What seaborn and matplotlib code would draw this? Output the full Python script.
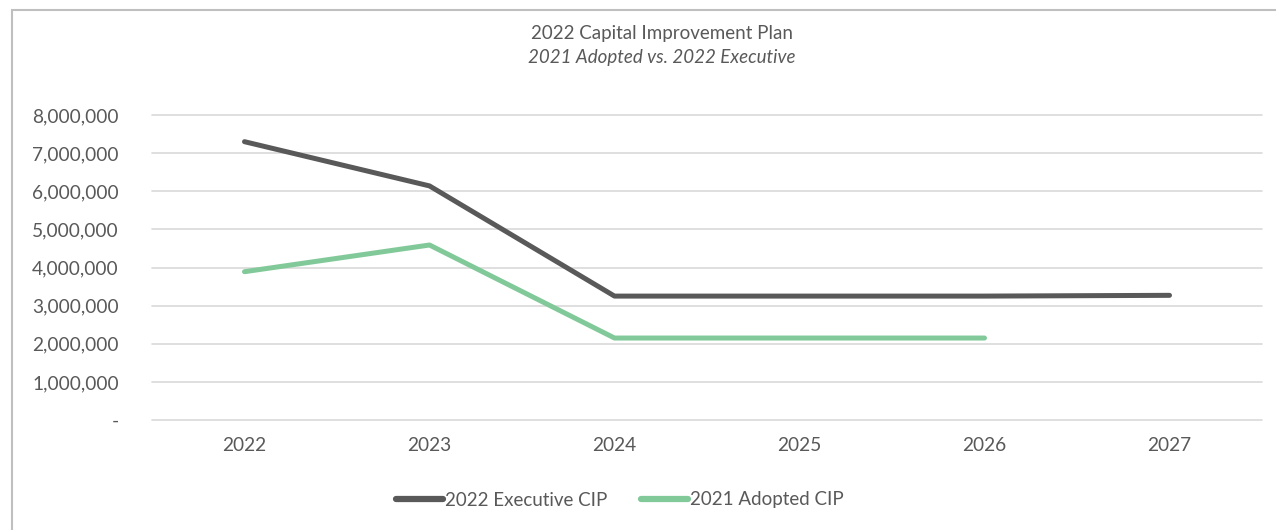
import numpy as np
import pandas as pd
import matplotlib
matplotlib.use("Agg")
import matplotlib.pyplot as plt
import seaborn as sns
from matplotlib.patches import Rectangle
from matplotlib.ticker import FuncFormatter

# verdier lest av bildet
years = ["2022", "2023", "2024", "2025", "2026", "2027"]
executive = [7300000, 6140000, 3250000, 3250000, 3250000, 3270000]
adopted = [3890000, 4590000, 2150000, 2150000, 2150000, np.nan]
series_names = ["2022 Executive CIP", "2021 Adopted CIP"]

df = pd.DataFrame({
    "År": years * 2,
    "Beløp": executive + adopted,
    "Serie": [series_names[0]] * len(years) + [series_names[1]] * len(years),
})
df["x"] = df.groupby("Serie").cumcount()

sns.set_style("white")
plt.rcParams["font.family"] = ["Lato", "DejaVu Sans"]
tekst = "#595959"

fig = plt.figure(figsize=(12.76, 5.30), dpi=100)
ax = fig.add_axes([152 / 1276, 1 - 420 / 530, 1110 / 1276, 305 / 530])

sns.lineplot(data=df.dropna(), x="x", y="Beløp", hue="Serie",
             palette={series_names[0]: "#595959", series_names[1]: "#82C99A"},
             linewidth=3.6, ax=ax, legend=True)
for line in ax.get_lines():
    line.set_solid_capstyle("round")

ax.set_xlim(-0.5, len(years) - 0.5)
ax.set_ylim(0, 8000000)
ax.set_yticks(np.arange(0, 8000001, 1000000))
ax.yaxis.set_major_formatter(FuncFormatter(lambda v, p: "-" if v == 0 else f"{v:,.0f}"))
ax.set_xticks(range(len(years)))
ax.set_xticklabels(years)
ax.grid(True, axis="y", color="#D9D9D9", linewidth=1.2)
for gl in ax.yaxis.get_gridlines():
    gl.set_clip_on(False)
ax.set_axisbelow(True)
for s in ax.spines.values():
    s.set_visible(False)
ax.tick_params(axis="both", length=0, labelsize=13.8, colors=tekst)
ax.tick_params(axis="x", pad=12)
ax.tick_params(axis="y", pad=24)
ax.set_xlabel("")
ax.set_ylabel("")

fig.text(662 / 1276, 1 - 33 / 530, "2022 Capital Improvement Plan", ha="center", va="center",
         fontsize=13.5, color=tekst)
fig.text(662 / 1276, 1 - 57 / 530, "2021 Adopted vs. 2022 Executive", ha="center", va="center",
         fontsize=13.5, color=tekst, style="italic")

handles, labels = ax.get_legend_handles_labels()
for h in handles:
    h.set_linewidth(4.5)
ax.legend(handles, labels, loc="center", bbox_to_anchor=(620 / 1276, 1 - 500 / 530),
          bbox_transform=fig.transFigure, ncol=2, frameon=False, fontsize=13.5,
          labelcolor=tekst, handlelength=2.5, handletextpad=0.1, columnspacing=1.8)

fig.patches.append(Rectangle((12 / 1276, -0.01), 1.2, 1 - 10 / 530 + 0.01, transform=fig.transFigure,
                             fill=False, edgecolor="#BFBFBF", linewidth=1.5))

fig.savefig("out.png", dpi=100)
